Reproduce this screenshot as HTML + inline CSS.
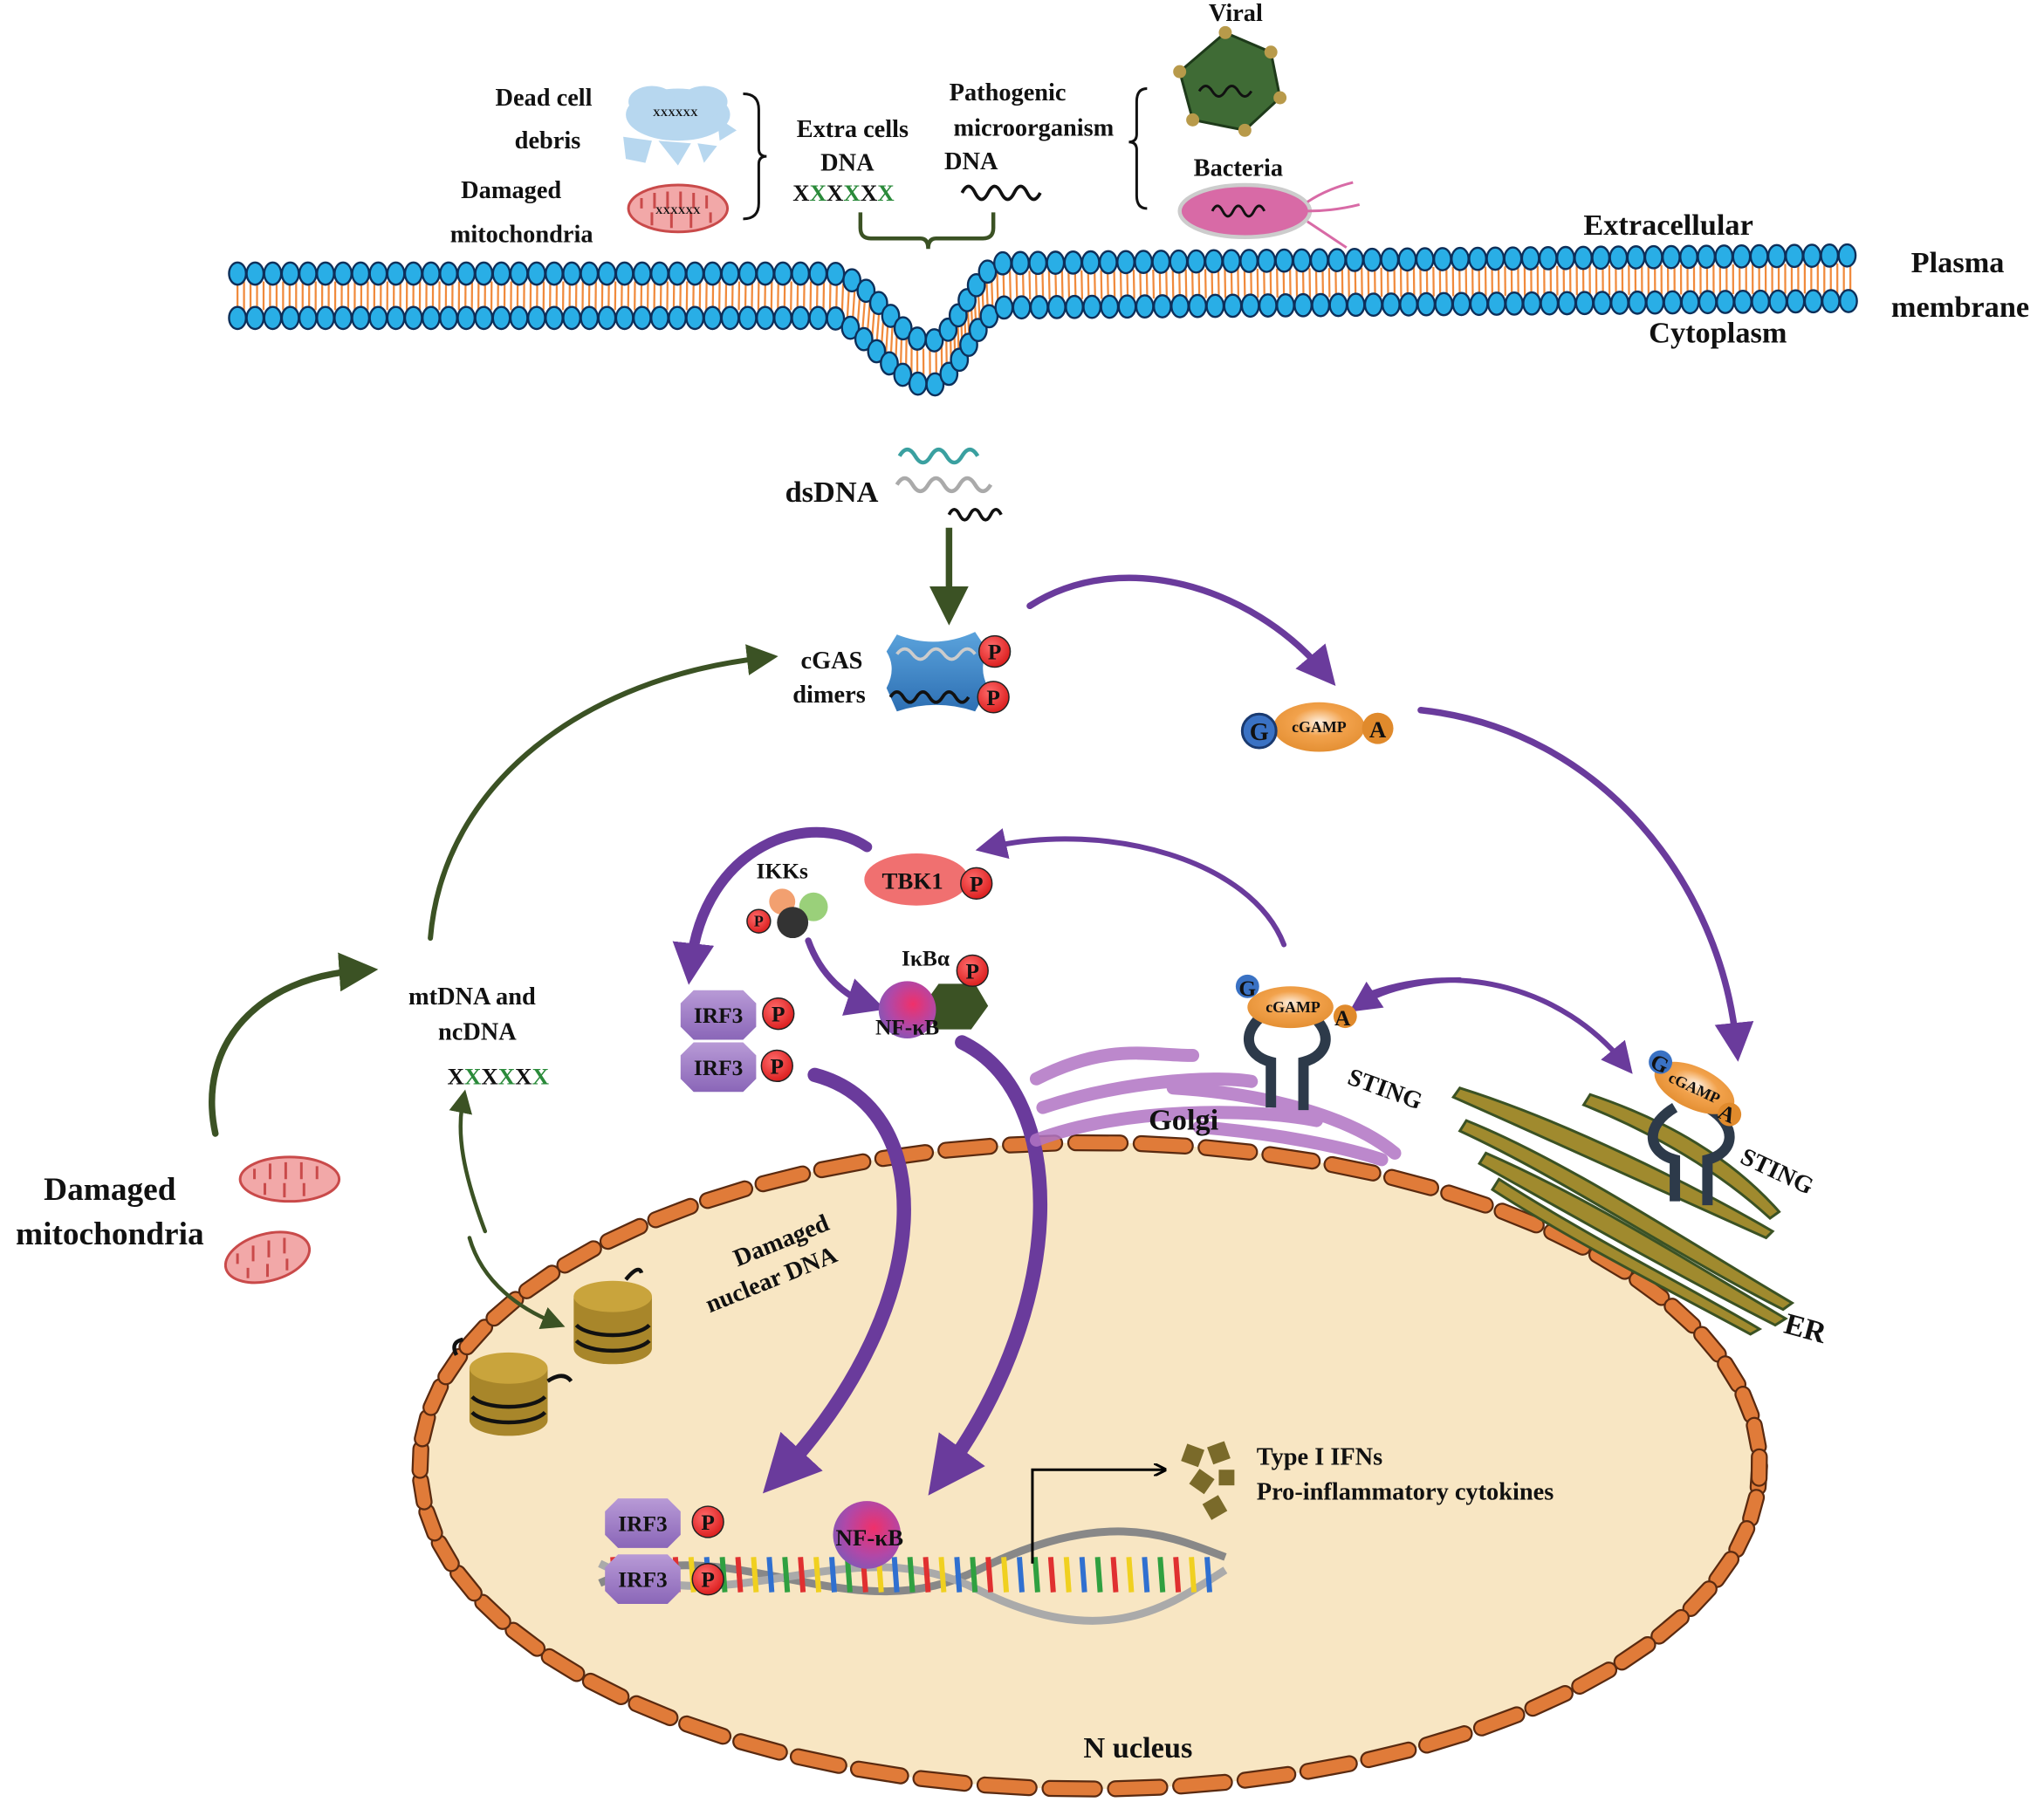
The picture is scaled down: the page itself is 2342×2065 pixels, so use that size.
<!DOCTYPE html>
<html><head><meta charset="utf-8">
<style>
html,body{margin:0;padding:0;background:#fff;}
svg{display:block;}
text{font-family:"Liberation Serif",serif;font-weight:bold;fill:#111;}
</style></head>
<body>
<svg id="s" width="2342" height="2065" viewBox="0 0 1568 1383" xmlns="http://www.w3.org/2000/svg">
<defs>
<radialGradient id="pg" cx="0.4" cy="0.35" r="0.7"><stop offset="0" stop-color="#ff6b6b"/><stop offset="1" stop-color="#d91a1a"/></radialGradient>
<radialGradient id="og" cx="0.5" cy="0.4" r="0.7"><stop offset="0" stop-color="#fff0e0"/><stop offset="0.4" stop-color="#f2a24c"/><stop offset="1" stop-color="#e08a2c"/></radialGradient>
<radialGradient id="nf" cx="0.6" cy="0.4" r="0.7"><stop offset="0" stop-color="#f0306a"/><stop offset="0.6" stop-color="#b048a8"/><stop offset="1" stop-color="#7a5ab8"/></radialGradient>
<linearGradient id="irf" x1="0" y1="0" x2="0" y2="1"><stop offset="0" stop-color="#b89ad6"/><stop offset="1" stop-color="#8a66b8"/></linearGradient>
<linearGradient id="cg" x1="0" y1="0" x2="0" y2="1"><stop offset="0" stop-color="#5ba3dc"/><stop offset="1" stop-color="#2d6fb3"/></linearGradient>
<marker id="ap" markerWidth="6" markerHeight="6" refX="3" refY="3" orient="auto" markerUnits="strokeWidth"><path d="M0,0 L6,3 L0,6 Z" fill="#6a3b9c"/></marker>
<marker id="ap2" markerWidth="4" markerHeight="4" refX="2" refY="2" orient="auto" markerUnits="strokeWidth"><path d="M0,0 L4,2 L0,4 Z" fill="#6a3b9c"/></marker>
<marker id="ag" markerWidth="6" markerHeight="6" refX="3" refY="3" orient="auto" markerUnits="strokeWidth"><path d="M0,0 L6,3 L0,6 Z" fill="#3b5224"/></marker>
<marker id="ak" markerWidth="10" markerHeight="10" refX="8" refY="5" orient="auto" markerUnits="userSpaceOnUse"><path d="M0,0 L10,5 L0,10" fill="none" stroke="#000" stroke-width="2"/></marker>
</defs>

<ellipse cx="836" cy="1125" rx="514" ry="248" fill="#f8e6c3"/>
<g id="nenv"></g>
<g id="mem"></g>

<text x="417" y="81" font-size="19" text-anchor="middle">Dead cell</text>
<text x="420" y="114" font-size="19" text-anchor="middle">debris</text>
<text x="392" y="152" font-size="19" text-anchor="middle">Damaged</text>
<text x="400" y="186" font-size="19" text-anchor="middle">mitochondria</text>
<g fill="#b7d7ef">
<ellipse cx="520" cy="88" rx="40" ry="20"/><ellipse cx="500" cy="78" rx="18" ry="12"/><ellipse cx="540" cy="78" rx="18" ry="12"/>
<polygon points="478,105 500,108 495,125 480,122"/><polygon points="505,108 530,110 520,127"/><polygon points="535,110 550,112 540,125"/><polygon points="550,90 565,100 552,108"/>
</g>
<text x="518" y="89" font-size="8" fill="#b33" text-anchor="middle">XXXXXX</text>
<ellipse cx="520" cy="160" rx="38" ry="18" fill="#f2a8a8" stroke="#c94a4a" stroke-width="2"/>
<path d="M492,160 v-8 M502,160 v-12 M512,160 v-13 M522,160 v-13 M532,160 v-12 M542,160 v-10 M500,163 v10 M515,163 v12 M530,163 v12 M545,163 v8" stroke="#c94a4a" stroke-width="2"/>
<text x="520" y="164" font-size="8" fill="#2a6a2a" text-anchor="middle">XXXXXX</text>
<path d="M570,72 q12,0 12,12 v30 q0,6 6,6 q-6,0 -6,6 v30 q0,12 -12,12" fill="none" stroke="#111" stroke-width="2"/>
<text x="654" y="105" font-size="19" text-anchor="middle">Extra cells</text>
<text x="650" y="131" font-size="19" text-anchor="middle">DNA</text>
<text x="647" y="154" font-size="18" fill="#c33" text-anchor="middle" font-family="Liberation Sans">X<tspan fill="#2a8a3a">X</tspan>X<tspan fill="#2a8a3a">X</tspan>X<tspan fill="#2a8a3a">X</tspan></text>
<text x="773" y="77" font-size="19" text-anchor="middle">Pathogenic</text>
<text x="793" y="104" font-size="19" text-anchor="middle">microorganism</text>
<text x="745" y="130" font-size="19" text-anchor="middle">DNA</text>
<path d="M738,148 q5,-10 10,0 t10,0 t10,0 t10,0 t10,0 t10,0" fill="none" stroke="#111" stroke-width="2.5"/>
<path d="M880,68 q-8,0 -8,10 v25 q0,6 -6,6 q6,0 6,6 v35 q0,10 8,10" fill="none" stroke="#111" stroke-width="2"/>
<path d="M660,163 v12 q0,8 8,8 h38 q6,0 6,8 q0,-8 6,-8 h36 q8,0 8,-8 v-12" fill="none" stroke="#3b5224" stroke-width="3"/>
<text x="948" y="16" font-size="19" text-anchor="middle">Viral</text>
<polygon points="940,25 975,40 982,75 955,100 915,92 905,55" fill="#3f6b35" stroke="#1e3a1a" stroke-width="2"/>
<path d="M920,70 q5,-8 10,0 t10,0 t10,0 t10,0" fill="none" stroke="#111" stroke-width="2"/>
<g fill="#b89a4a"><circle cx="940" cy="25" r="5"/><circle cx="975" cy="40" r="5"/><circle cx="982" cy="75" r="5"/><circle cx="955" cy="100" r="5"/><circle cx="915" cy="92" r="5"/><circle cx="905" cy="55" r="5"/></g>
<text x="950" y="135" font-size="19" text-anchor="middle">Bacteria</text>
<ellipse cx="955" cy="162" rx="50" ry="20" fill="#d86aa6" stroke="#ccc" stroke-width="3"/>
<path d="M930,162 q4,-8 8,0 t8,0 t8,0 t8,0 t8,0" fill="none" stroke="#111" stroke-width="2"/>
<path d="M1003,155 q15,-10 35,-15 M1003,162 q20,0 40,-5 M1003,170 q15,10 30,20" fill="none" stroke="#d86aa6" stroke-width="2"/>

<text x="1280" y="180" font-size="23" text-anchor="middle">Extracellular</text>
<text x="1502" y="209" font-size="23" text-anchor="middle">Plasma</text>
<text x="1504" y="243" font-size="23" text-anchor="middle">membrane</text>
<text x="1318" y="263" font-size="23" text-anchor="middle">Cytoplasm</text>

<text x="638" y="385" font-size="23" text-anchor="middle">dsDNA</text>
<path d="M690,350 q6,-10 12,0 t12,0 t12,0 t12,0 t12,0" fill="none" stroke="#3aa0a0" stroke-width="3"/>
<path d="M688,372 q6,-10 12,0 t12,0 t12,0 t12,0 t12,0 t12,0" fill="none" stroke="#aaa" stroke-width="3"/>
<path d="M728,395 q4,-8 8,0 t8,0 t8,0 t8,0 t8,0" fill="none" stroke="#111" stroke-width="2.5"/>
<path d="M728,405 V465" stroke="#3b5224" stroke-width="5" marker-end="url(#ag)"/>

<path d="M688,487 q30,12 60,-2 l10,15 q-8,12 0,28 l-10,18 q-30,-10 -60,0 l-8,-18 q8,-15 0,-28 z" fill="url(#cg)"/>
<path d="M688,502 q6,-8 12,0 t12,0 t12,0 t12,0 t12,0" fill="none" stroke="#ccc" stroke-width="2.5"/>
<path d="M683,535 q5,-8 10,0 t10,0 t10,0 t10,0 t10,0 t10,0" fill="none" stroke="#111" stroke-width="2.5"/>
<text x="638" y="513" font-size="19" text-anchor="middle">cGAS</text>
<text x="636" y="539" font-size="19" text-anchor="middle">dimers</text>

<ellipse cx="1012" cy="558" rx="35" ry="19" fill="url(#og)"/>
<circle cx="966" cy="561" r="13" fill="#3a72c4" stroke="#1a3a70" stroke-width="2"/><text x="966" y="568" font-size="19" text-anchor="middle">G</text>
<circle cx="1057" cy="559" r="12" fill="#e08a2c"/><text x="1057" y="566" font-size="18" text-anchor="middle">A</text>
<text x="1012" y="562" font-size="12" text-anchor="middle">cGAMP</text>

<g fill="none" stroke="#6a3b9c" stroke-linecap="round">
<path d="M790,465 C860,420 960,450 1015,515" stroke-width="5" marker-end="url(#ap)"/>
<path d="M1090,545 C1230,560 1320,680 1332,800" stroke-width="5" marker-end="url(#ap)"/>
<path d="M985,725 C960,660 850,630 760,650" stroke-width="4" marker-end="url(#ap)"/>
<path d="M1045,765 C1120,735 1200,760 1245,815" stroke-width="4" marker-end="url(#ap)"/>
<path d="M1120,752 C1090,752 1060,760 1045,770" stroke-width="4" marker-end="url(#ap)"/>
<path d="M665,650 C620,620 540,650 530,740" stroke-width="8" marker-end="url(#ap2)"/>
<path d="M620,722 C630,750 650,765 665,770" stroke-width="5" marker-end="url(#ap)"/>
<path d="M625,825 C720,850 720,1000 600,1130" stroke-width="11" marker-end="url(#ap2)"/>
<path d="M738,800 C820,840 820,1000 725,1130" stroke-width="11" marker-end="url(#ap2)"/>
</g>

<ellipse cx="703" cy="675" rx="40" ry="20" fill="#f07070"/><text x="700" y="682" font-size="18" text-anchor="middle">TBK1</text>
<text x="600" y="674" font-size="17" text-anchor="middle">IKKs</text>
<circle cx="600" cy="692" r="10" fill="#f2a070"/><circle cx="624" cy="696" r="11" fill="#9ad07a"/><circle cx="608" cy="708" r="12" fill="#333"/>
<text x="710" y="741" font-size="17" text-anchor="middle">IκBα</text>
<polygon points="720,755 748,755 758,772 745,790 718,790 708,772" fill="#3b5224"/>
<circle cx="696" cy="775" r="22" fill="url(#nf)"/>
<text x="696" y="794" font-size="17" text-anchor="middle">NF-κB</text>

<g fill="url(#irf)">
<polygon points="532,760 570,760 580,770 580,788 570,798 532,798 522,788 522,770"/>
<polygon points="532,800 570,800 580,810 580,828 570,838 532,838 522,828 522,810"/>
</g>
<text x="551" y="785" font-size="17" text-anchor="middle">IRF3</text>
<text x="551" y="825" font-size="17" text-anchor="middle">IRF3</text>

<g fill="none" stroke="#b174c4" stroke-width="10" stroke-linecap="round" opacity="0.85">
<path d="M795,828 C850,800 880,810 915,810"/>
<path d="M800,850 C860,830 930,825 960,830"/>
<path d="M795,875 C860,850 960,850 1010,860"/>
<path d="M900,835 C980,840 1040,860 1070,885"/>
<path d="M920,865 C980,870 1030,880 1060,890"/>
</g>
<text x="908" y="867" font-size="23" text-anchor="middle">Golgi</text>
<g stroke="#3b5224" stroke-width="2" fill="#a08a2e">
<path d="M1120,835 C1200,860 1300,910 1360,945 L1355,950 C1290,920 1200,880 1115,842 Z"/>
<path d="M1125,860 C1200,890 1290,950 1375,1000 L1368,1005 C1280,960 1200,905 1120,868 Z"/>
<path d="M1140,885 C1220,920 1290,965 1370,1012 L1362,1017 C1280,975 1210,935 1135,893 Z"/>
<path d="M1220,840 C1280,860 1330,890 1365,930 L1358,935 C1320,900 1270,870 1215,848 Z"/>
<path d="M1150,905 C1220,950 1300,990 1350,1020 L1343,1024 C1290,995 1210,955 1145,913 Z"/>
</g>
<text x="1385" y="1027" font-size="23" text-anchor="middle" transform="rotate(15 1385 1020)">ER</text>

<g fill="none" stroke="#2d3a4a" stroke-width="8">
<path d="M975,775 C950,790 955,810 975,815 V850"/>
<path d="M1000,775 C1025,790 1020,810 1000,815 V852"/>
<path d="M1285,850 C1260,865 1265,885 1285,890 V922"/>
<path d="M1310,850 C1335,865 1330,885 1310,890 V925"/>
</g>
<ellipse cx="990" cy="773" rx="33" ry="16" fill="url(#og)"/><circle cx="957" cy="757" r="9" fill="#3a72c4"/><text x="957" y="764" font-size="17" text-anchor="middle">G</text>
<circle cx="1032" cy="780" r="9" fill="#e08a2c"/><text x="1030" y="787" font-size="17" text-anchor="middle">A</text>
<text x="992" y="777" font-size="12" text-anchor="middle">cGAMP</text>
<text x="1063" y="842" font-size="19" transform="rotate(20 1063 835)" text-anchor="middle">STING</text>
<g transform="rotate(25 1300 835)">
<ellipse cx="1300" cy="835" rx="33" ry="16" fill="url(#og)"/><circle cx="1268" cy="828" r="9" fill="#3a72c4"/><text x="1268" y="835" font-size="17" text-anchor="middle">G</text>
<circle cx="1333" cy="842" r="9" fill="#e08a2c"/><text x="1331" y="848" font-size="17" text-anchor="middle">A</text>
<text x="1300" y="839" font-size="12" text-anchor="middle">cGAMP</text>
</g>
<text x="1363" y="905" font-size="19" transform="rotate(25 1363 900)" text-anchor="middle">STING</text>

<text x="84" y="921" font-size="25" text-anchor="middle">Damaged</text>
<text x="84" y="955" font-size="25" text-anchor="middle">mitochondria</text>
<ellipse cx="222" cy="905" rx="38" ry="17" fill="#f2a8a8" stroke="#c94a4a" stroke-width="2"/>
<path d="M195,905 v-8 M207,905 v-12 M219,905 v-13 M231,905 v-13 M243,905 v-10 M203,908 v9 M218,908 v11 M233,908 v10" stroke="#c94a4a" stroke-width="2"/>
<ellipse cx="205" cy="965" rx="33" ry="18" fill="#f2a8a8" stroke="#c94a4a" stroke-width="2" transform="rotate(-15 205 965)"/>
<path d="M182,970 v-8 M194,968 v-12 M206,965 v-13 M218,962 v-12 M190,973 v8 M205,970 v10 M220,966 v9" stroke="#c94a4a" stroke-width="2"/>
<text x="362" y="771" font-size="19" text-anchor="middle">mtDNA and</text>
<text x="366" y="798" font-size="19" text-anchor="middle">ncDNA</text>
<text x="382" y="832" font-size="18" fill="#c33" text-anchor="middle" font-family="Liberation Sans">X<tspan fill="#2a8a3a">X</tspan>X<tspan fill="#2a8a3a">X</tspan>X<tspan fill="#2a8a3a">X</tspan></text>
<g fill="none" stroke="#3b5224" stroke-linecap="round">
<path d="M165,870 C150,800 200,750 275,745" stroke-width="5" marker-end="url(#ag)"/>
<path d="M330,720 C340,600 450,520 585,505" stroke-width="4" marker-end="url(#ag)"/>
<path d="M372,945 C355,900 350,870 355,845" stroke-width="3" marker-end="url(#ag)"/>
<path d="M360,950 C370,985 400,1005 425,1015" stroke-width="3" marker-end="url(#ag)"/>
</g>

<g>
<path d="M360,1050 v40 a30,12 0 0 0 60,0 v-40 z" fill="#a8862a"/><ellipse cx="390" cy="1050" rx="30" ry="12" fill="#c9a43c"/>
<path d="M362,1072 a30,12 0 0 0 56,0 M362,1084 a30,12 0 0 0 56,0" fill="none" stroke="#111" stroke-width="3"/>
<path d="M440,995 v40 a30,12 0 0 0 60,0 v-40 z" fill="#a8862a"/><ellipse cx="470" cy="995" rx="30" ry="12" fill="#c9a43c"/>
<path d="M442,1017 a30,12 0 0 0 56,0 M442,1029 a30,12 0 0 0 56,0" fill="none" stroke="#111" stroke-width="3"/>
<path d="M420,1060 q12,-8 18,0 M480,982 q10,-12 12,-5 M350,1040 q-5,-10 5,-12" fill="none" stroke="#111" stroke-width="3"/>
</g>
<text x="600" y="960" font-size="19" text-anchor="middle" transform="rotate(-22 595 955)">Damaged</text>
<text x="592" y="988" font-size="19" text-anchor="middle" transform="rotate(-22 592 983)">nuclear DNA</text>

<path d="M460,1215 C560,1170 650,1255 750,1205 S900,1180 940,1195" fill="none" stroke="#888" stroke-width="6"/>
<path d="M460,1200 C560,1250 650,1170 750,1220 S900,1230 940,1205" fill="none" stroke="#aaa" stroke-width="6"/>
<g id="rungs"></g>
<g fill="url(#irf)">
<polygon points="474,1150 512,1150 522,1160 522,1178 512,1188 474,1188 464,1178 464,1160"/>
<polygon points="474,1193 512,1193 522,1203 522,1221 512,1231 474,1231 464,1221 464,1203"/>
</g>
<text x="493" y="1175" font-size="17" text-anchor="middle">IRF3</text>
<text x="493" y="1218" font-size="17" text-anchor="middle">IRF3</text>
<circle cx="665" cy="1178" r="26" fill="url(#nf)"/><text x="667" y="1186" font-size="18" text-anchor="middle">NF-κB</text>
<path d="M792,1200 V1128 H893" fill="none" stroke="#000" stroke-width="2" marker-end="url(#ak)"/>
<g fill="#7a6a2a"><rect x="908" y="1110" width="14" height="14" transform="rotate(20 915 1117)"/><rect x="928" y="1108" width="14" height="14" transform="rotate(-20 935 1115)"/><rect x="915" y="1130" width="14" height="14" transform="rotate(35 922 1137)"/><rect x="935" y="1128" width="12" height="12"/><rect x="925" y="1150" width="14" height="14" transform="rotate(-30 932 1157)"/></g>
<text x="964" y="1124" font-size="19">Type I IFNs</text>
<text x="964" y="1151" font-size="19">Pro-inflammatory cytokines</text>
<text x="873" y="1349" font-size="23" text-anchor="middle">N ucleus</text>
<g id="ps"></g>
</svg>
<script>
var NS="http://www.w3.org/2000/svg",s=document.getElementById('s');
function el(t,a,p){var e=document.createElementNS(NS,t);for(var k in a)e.setAttribute(k,a[k]);(p||s).appendChild(e);return e;}
var mem=document.getElementById('mem');
var top1="M182,210 L640,210 C670,215 690,262 712,262 C735,262 745,205 770,202 L1422,196";
var bot1="M182,244 L640,244 C665,255 690,296 712,296 C735,296 748,240 770,236 L1422,231";
var a=el('path',{d:top1,fill:'none'},mem),b=el('path',{d:bot1,fill:'none'},mem);
var La=a.getTotalLength(),Lb=b.getTotalLength();
for(var i=0;i<=La;i+=5){var p=a.getPointAtLength(i),q=b.getPointAtLength(i*Lb/La);
 el('line',{x1:p.x,y1:p.y+6,x2:q.x,y2:q.y-6,stroke:'#f08a3c','stroke-width':1.5},mem);}
for(var i=0;i<=La;i+=13.5){var p=a.getPointAtLength(i);el('ellipse',{cx:p.x,cy:p.y,rx:6.5,ry:8.5,fill:'#29aee6',stroke:'#0d2f5a','stroke-width':1.6},mem);}
for(var i=0;i<=Lb;i+=13.5){var p=b.getPointAtLength(i);el('ellipse',{cx:p.x,cy:p.y,rx:6.5,ry:8.5,fill:'#29aee6',stroke:'#0d2f5a','stroke-width':1.6},mem);}
var ne=document.getElementById('nenv');
for(var t=0;t<360;t+=5.6){var r1=t*Math.PI/180,r2=(t+3.8)*Math.PI/180;
 var d='M'+(836+514*Math.cos(r1))+','+(1125+248*Math.sin(r1))+' L'+(836+514*Math.cos(r2))+','+(1125+248*Math.sin(r2));
 el('path',{d:d,stroke:'#5a2a10','stroke-width':13,'stroke-linecap':'round'},ne);
 el('path',{d:d,stroke:'#e07b39','stroke-width':10,'stroke-linecap':'round'},ne);}
var rg=document.getElementById('rungs'),cols=['#e03030','#f0d020','#3070d0','#30a040'];
for(var x=470,i=0;x<935;x+=12,i++){el('line',{x1:x,y1:1195,x2:x+2,y2:1222,stroke:cols[i%4],'stroke-width':4},rg);}
var ps=document.getElementById('ps');
[[763,500],[762,535],[749,678],[746,745],[582,707],[597,778],[596,818],[543,1168],[543,1212]].forEach(function(c){
 var r=(c[0]==582)?9:12;el('circle',{cx:c[0],cy:c[1],r:r,fill:'url(#pg)',stroke:'#222','stroke-width':1},ps);
 var t=el('text',{x:c[0],y:c[1]+(r==9?4:6),'font-size':r==9?12:17,'text-anchor':'middle'},ps);t.textContent='P';});
</script>
</body></html>
